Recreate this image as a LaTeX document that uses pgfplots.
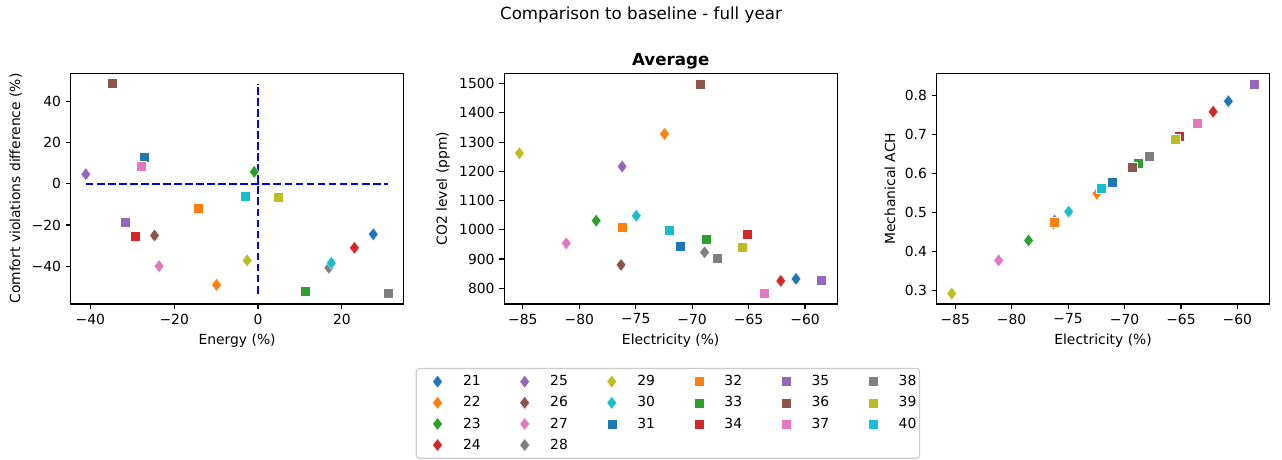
\documentclass[border=0pt]{standalone}
\usepackage{pgfplots}
\pgfplotsset{compat=1.18}
\usepackage{fontspec}
\setmainfont{DejaVu Sans}
\definecolor{c1}{HTML}{1F77B4}
\definecolor{c2}{HTML}{FF7F0E}
\definecolor{c3}{HTML}{2CA02C}
\definecolor{c4}{HTML}{D62728}
\definecolor{c5}{HTML}{9467BD}
\definecolor{c6}{HTML}{8C564B}
\definecolor{c7}{HTML}{E377C2}
\definecolor{c8}{HTML}{7F7F7F}
\definecolor{c9}{HTML}{BCBD22}
\definecolor{c10}{HTML}{17BECF}
\pgfplotsset{
  dmd/.style={only marks, color=#1, mark=diamond*, mark size=4.6pt, mark options={xscale=1.02, draw=white, line width=0.2pt, fill=#1}},
  sqr/.style={only marks, color=#1, mark=square*, mark size=3.6pt, mark options={draw=white, line width=0.25pt, fill=#1}},
  myax/.style={scale only axis, width=239.6pt, height=166.2pt, anchor=south west,
    axis line style={line width=0.8pt, black}, tick align=outside, major tick length=3.5pt,
    every tick/.style={black, line width=0.8pt}, xtick pos=left, ytick pos=left,
    tick label style={font=\fontsize{10}{12}\selectfont},
    label style={font=\fontsize{10}{12}\selectfont}},
  baseline/.style={blue, line width=1.5pt, dash pattern=on 5.55pt off 2.4pt, no marks}
}
\begin{document}
\begin{tikzpicture}
\path[use as bounding box] (0,0) rectangle (923.04pt,331.2pt);
\node[anchor=base, font=\fontsize{12}{14.4}\selectfont] at (461.5pt,317.3pt) {Comparison to baseline - full year};
% Panel 1
\begin{axis}[myax, at={(50.9pt,112.3pt)},
  xmin=-44.7, xmax=34.7, ymin=-58.4, ymax=53.8,
  xtick={-40,-20,0,20}, xticklabels={−40,−20,0,20},
  ytick={-40,-20,0,20,40}, yticklabels={−40,−20,0,20,40},
  xlabel={Energy (\%)}, ylabel={Comfort violations difference (\%)}]
\addplot[dmd=c1] coordinates {(27.5,-24.5)};
\addplot[dmd=c2] coordinates {(-9.9,-49.1)};
\addplot[dmd=c3] coordinates {(-0.9,5.8)};
\addplot[dmd=c4] coordinates {(23.0,-31.1)};
\addplot[dmd=c5] coordinates {(-41.1,4.7)};
\addplot[dmd=c6] coordinates {(-24.7,-25.1)};
\addplot[dmd=c7] coordinates {(-23.6,-40.0)};
\addplot[dmd=c8] coordinates {(16.9,-40.8)};
\addplot[dmd=c9] coordinates {(-2.6,-37.2)};
\addplot[dmd=c10] coordinates {(17.5,-38.4)};
\addplot[sqr=c1] coordinates {(-27.1,13.0)};
\addplot[sqr=c2] coordinates {(-14.4,-12.0)};
\addplot[sqr=c3] coordinates {(11.3,-52.1)};
\addplot[sqr=c4] coordinates {(-29.4,-25.4)};
\addplot[sqr=c5] coordinates {(-31.8,-18.5)};
\addplot[sqr=c6] coordinates {(-34.7,48.7)};
\addplot[sqr=c7] coordinates {(-27.9,8.4)};
\addplot[sqr=c8] coordinates {(31.1,-53.3)};
\addplot[sqr=c9] coordinates {(4.7,-6.5)};
\addplot[sqr=c10] coordinates {(-3.1,-6.0)};
\addplot[baseline] coordinates {(-41.1,0) (31.1,0)};
\addplot[baseline] coordinates {(0,-53.3) (0,48.7)};
\end{axis}
% Panel 2
\begin{axis}[myax, at={(363.1pt,112.3pt)},
  xmin=-86.64, xmax=-57.16, ymin=745.9, ymax=1535.9,
  xtick={-85,-80,-75,-70,-65,-60}, xticklabels={−85,−80,−75,−70,−65,−60},
  ytick={800,900,1000,1100,1200,1300,1400,1500},
  yticklabels={800,900,1000,1100,1200,1300,1400,1500},
  xlabel={Electricity (\%)}, ylabel={CO2 level (ppm)},
  title={Average}, title style={font=\bfseries\fontsize{12}{14.4}\selectfont, at={(0.5,1)}, anchor=base, yshift=-0.5pt},
  legend style={at={(0.5,-0.283)}, anchor=north, xshift=-2pt, yshift=1pt, legend columns=6, draw=black!20, line width=0.8pt, rounded corners=2pt,
    font=\fontsize{10}{12}\selectfont, inner xsep=0.3pt, inner ysep=3pt, row sep=2.3pt,
    /tikz/every odd column/.append style={column sep=6.4pt},
    /tikz/every even column/.append style={column sep=14.6pt}},
  legend cell align=left,
  legend image code/.code={\path[draw=none,fill=none] (-5pt,-4pt) rectangle (20pt,4pt); \draw[#1] plot coordinates {(10pt,0pt)};}]
\addplot[dmd=c1, forget plot] coordinates {(-60.8,831.9)};
\addplot[dmd=c2, forget plot] coordinates {(-72.45,1328)};
\addplot[dmd=c3, forget plot] coordinates {(-78.5,1031)};
\addplot[dmd=c4, forget plot] coordinates {(-62.15,825)};
\addplot[dmd=c5, forget plot] coordinates {(-76.2,1216.6)};
\addplot[dmd=c6, forget plot] coordinates {(-76.3,879.7)};
\addplot[dmd=c7, forget plot] coordinates {(-81.15,953.7)};
\addplot[dmd=c8, forget plot] coordinates {(-68.9,922.9)};
\addplot[dmd=c9, forget plot] coordinates {(-85.3,1262)};
\addplot[dmd=c10, forget plot] coordinates {(-74.95,1048)};
\addplot[sqr=c1, forget plot] coordinates {(-71.1,943.4)};
\addplot[sqr=c2, forget plot] coordinates {(-76.2,1009)};
\addplot[sqr=c3, forget plot] coordinates {(-68.75,968)};
\addplot[sqr=c4, forget plot] coordinates {(-65.15,984)};
\addplot[sqr=c5, forget plot] coordinates {(-58.55,828.5)};
\addplot[sqr=c6, forget plot] coordinates {(-69.3,1500)};
\addplot[sqr=c7, forget plot] coordinates {(-63.6,781.8)};
\addplot[sqr=c8, forget plot] coordinates {(-67.8,901.3)};
\addplot[sqr=c9, forget plot] coordinates {(-65.55,940)};
\addplot[sqr=c10, forget plot] coordinates {(-72.05,999.2)};
\addlegendimage{dmd=c1}\addlegendentry{21}
\addlegendimage{dmd=c5}\addlegendentry{25}
\addlegendimage{dmd=c9}\addlegendentry{29}
\addlegendimage{sqr=c2}\addlegendentry{32}
\addlegendimage{sqr=c5}\addlegendentry{35}
\addlegendimage{sqr=c8}\addlegendentry{38}
\addlegendimage{dmd=c2}\addlegendentry{22}
\addlegendimage{dmd=c6}\addlegendentry{26}
\addlegendimage{dmd=c10}\addlegendentry{30}
\addlegendimage{sqr=c3}\addlegendentry{33}
\addlegendimage{sqr=c6}\addlegendentry{36}
\addlegendimage{sqr=c9}\addlegendentry{39}
\addlegendimage{dmd=c3}\addlegendentry{23}
\addlegendimage{dmd=c7}\addlegendentry{27}
\addlegendimage{sqr=c1}\addlegendentry{31}
\addlegendimage{sqr=c4}\addlegendentry{34}
\addlegendimage{sqr=c7}\addlegendentry{37}
\addlegendimage{sqr=c10}\addlegendentry{40}
\addlegendimage{dmd=c4}\addlegendentry{24}
\addlegendimage{dmd=c8}\addlegendentry{28}
\end{axis}
% Panel 3
\begin{axis}[myax, at={(674.4pt,112.3pt)},
  xmin=-86.64, xmax=-57.16, ymin=0.2651, ymax=0.8569,
  xtick={-85,-80,-75,-70,-65,-60}, xticklabels={−85,−80,−75,−70,−65,−60},
  ytick={0.3,0.4,0.5,0.6,0.7,0.8}, yticklabels={0.3,0.4,0.5,0.6,0.7,0.8},
  xlabel={Electricity (\%)}, ylabel={Mechanical ACH}]
\addplot[dmd=c1] coordinates {(-60.8,0.785)};
\addplot[dmd=c2] coordinates {(-72.45,0.548)};
\addplot[dmd=c3] coordinates {(-78.5,0.428)};
\addplot[dmd=c4] coordinates {(-62.15,0.758)};
\addplot[dmd=c5] coordinates {(-76.2,0.479)};
\addplot[dmd=c6] coordinates {(-76.3,0.472)};
\addplot[dmd=c7] coordinates {(-81.15,0.377)};
\addplot[dmd=c8] coordinates {(-68.9,0.622)};
\addplot[dmd=c9] coordinates {(-85.3,0.292)};
\addplot[dmd=c10] coordinates {(-74.95,0.502)};
\addplot[sqr=c1] coordinates {(-71.1,0.577)};
\addplot[sqr=c2] coordinates {(-76.2,0.475)};
\addplot[sqr=c3] coordinates {(-68.75,0.625)};
\addplot[sqr=c4] coordinates {(-65.15,0.695)};
\addplot[sqr=c5] coordinates {(-58.55,0.83)};
\addplot[sqr=c6] coordinates {(-69.3,0.615)};
\addplot[sqr=c7] coordinates {(-63.6,0.728)};
\addplot[sqr=c8] coordinates {(-67.8,0.644)};
\addplot[sqr=c9] coordinates {(-65.55,0.689)};
\addplot[sqr=c10] coordinates {(-72.05,0.561)};
\end{axis}
\end{tikzpicture}
\end{document}
